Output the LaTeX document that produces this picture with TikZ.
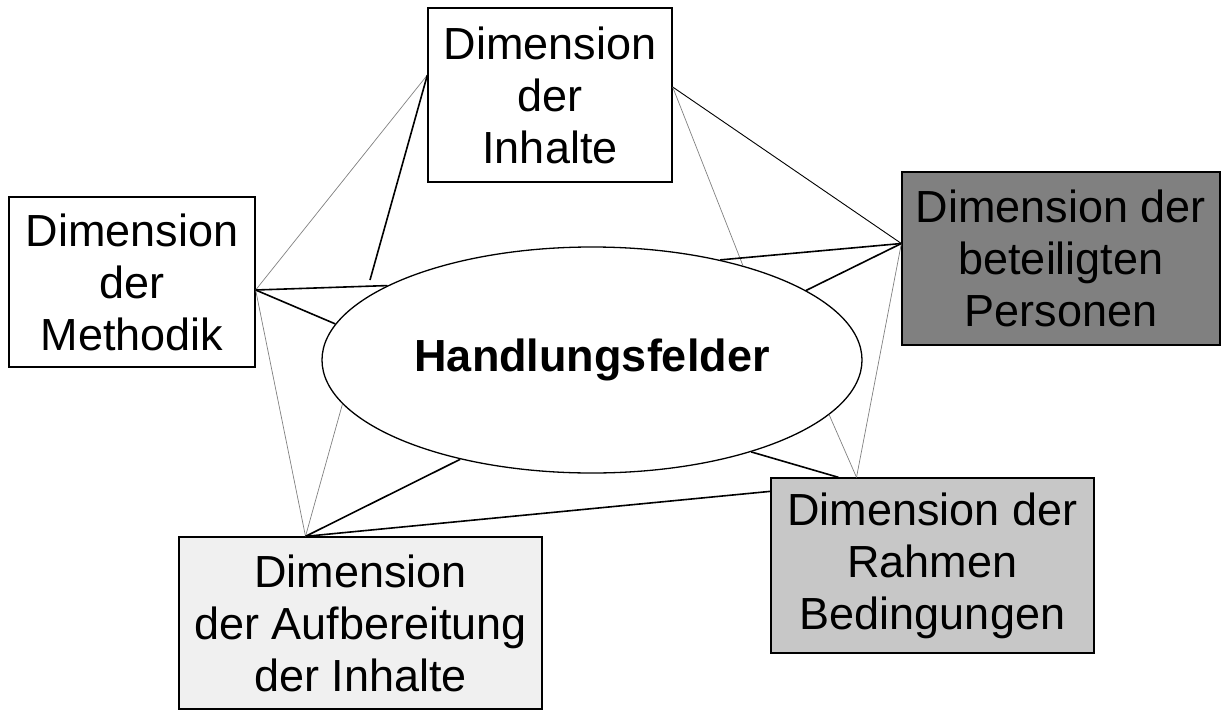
\documentclass[tikz,border=0pt]{standalone}
\usepackage{fontspec}
\setmainfont{Liberation Sans}
\usetikzlibrary{shapes.geometric}
\begin{document}
\begin{tikzpicture}[x=1pt,y=-1pt,
  box/.style={draw=black,line width=1.3pt,rectangle,align=center,inner sep=0pt,
    font=\fontsize{45}{52}\selectfont},
  thinline/.style={draw=black!50,line width=0.7pt},
  thickline/.style={draw=black,line width=1.6pt}]
\useasboundingbox (0,0) rectangle (1222,709);
% boxes
\node[box,minimum width=244pt,minimum height=174pt] (inh) at (550,95) {Dimension\\der\\Inhalte};
\node[box,minimum width=246pt,minimum height=170pt] (met) at (132,282) {Dimension\\der\\Methodik};
\node[box,fill=black!50,minimum width=318pt,minimum height=173pt] (per) at (1061,258.5) {Dimension der\\beteiligten\\Personen};
\node[box,fill=black!22,minimum width=323pt,minimum height=175pt] (rah) at (932.5,565.5) {Dimension der\\Rahmen\\Bedingungen};
\node[box,fill=black!6,minimum width=363pt,minimum height=172pt] (auf) at (360.5,623) {Dimension\\der Aufbereitung\\der Inhalte};
% centre
\node[ellipse,draw=black,line width=1.3pt,minimum width=540pt,minimum height=226pt,inner sep=0pt,
  font=\bfseries\fontsize{45}{52}\selectfont] (hf) at (592,360) {Handlungsfelder};
% attachment points
\coordinate (inhL) at ([yshift=20pt]inh.west);
\coordinate (inhR) at ([yshift=8pt]inh.east);
\coordinate (metR) at ([yshift=-8pt]met.east);
\coordinate (perL) at ([yshift=15pt]per.west);
\coordinate (rahT) at ([xshift=-76pt]rah.north);
\coordinate (rahT2) at ([xshift=-94pt]rah.north);
\coordinate (rahL) at ([yshift=-14pt]rah.north west);
\coordinate (aufT) at ([xshift=-55pt]auf.north);
\coordinate (inhE) at (370,280);
% outer ring
\draw[thinline] (inhL) -- (metR);
\draw[draw=black,line width=0.9pt] (inhR) -- (perL);
\draw[thinline] (perL) -- (rahT);
\draw[thickline] (rahL) -- (aufT);
\draw[thinline] (aufT) -- (metR);
% spokes to the ellipse
\draw[thickline] (inhL) -- (inhE);
\draw[thinline] (inhR) -- (hf.32);
\draw[thickline] (perL) -- (hf.38);
\draw[thickline] (perL) -- (hf.18);
\draw[thinline] (rahT) -- (hf.-13);
\draw[thickline] (rahT2) -- (hf.-30);
\draw[thinline] (aufT) -- (hf.190);
\draw[thickline] (aufT) -- (hf.217);
\draw[thickline] (metR) -- (hf.160.5);
\draw[thickline] (metR) -- (hf.172);
\end{tikzpicture}
\end{document}
